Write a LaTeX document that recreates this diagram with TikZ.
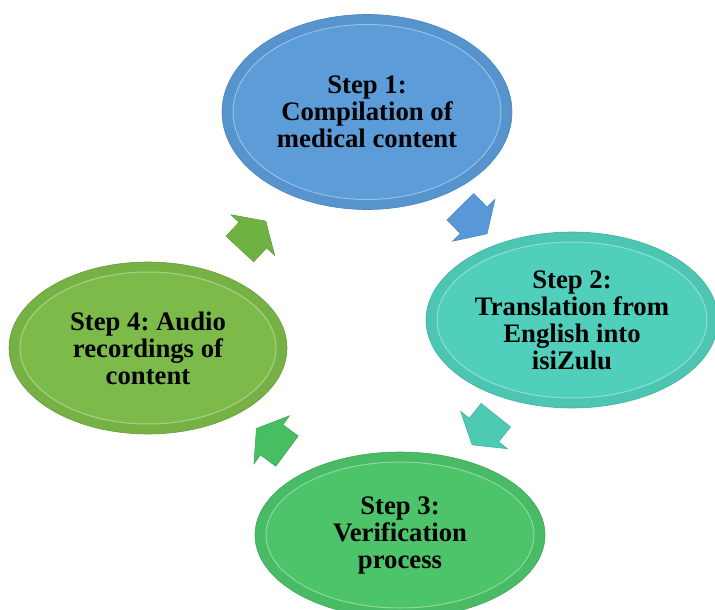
\documentclass[tikz,border=0pt]{standalone}
\usepackage{fontspec}
\setmainfont{Liberation Serif}
\usetikzlibrary{shapes.geometric,shapes.arrows}
\definecolor{stepblue}{RGB}{92,156,216}
\definecolor{stepteal}{RGB}{80,208,188}
\definecolor{stepgreen}{RGB}{77,196,106}
\definecolor{stepolive}{RGB}{124,186,74}
\definecolor{arrowblue}{RGB}{88,152,216}
\definecolor{arrowteal}{RGB}{78,202,180}
\definecolor{arrowgreen}{RGB}{72,190,98}
\definecolor{arrowolive}{RGB}{112,178,66}
\begin{document}
\begin{tikzpicture} [
      x=1pt, y=-1pt,
      stepnode/.style n args={3}{ellipse, minimum width=#1, minimum height=#2, fill=#3!95!black, draw=#3!85!black, line width=0.6pt, align=center, inner sep=0pt, font=\fontsize{26.7}{27}\selectfont\bfseries\frenchspacing,
        path picture={\draw[fill=#3, draw=#3!65!white, line width=1pt] (path picture bounding box.center) ellipse [x radius=#1/2-11pt, y radius=#2/2-10pt];}},
      cyclearrow/.style={single arrow, draw=#1!88!black, fill=#1, line width=0.6pt, minimum height=38pt, single arrow head extend=11pt, single arrow tip angle=115, inner sep=0pt, sloped, allow upside down}
   ]
    \useasboundingbox (0,0) rectangle (715,610);
    \node[stepnode={290pt}{195pt}{stepblue}] (s1) at (367,112) {Step 1:\\Compilation of\\medical content};
    \node[stepnode={292pt}{176pt}{stepteal}] (s2) at (572,320) {Step 2:\\Translation from\\English into\\isiZulu};
    \node[stepnode={290pt}{166pt}{stepgreen}] (s3) at (400,535) {Step 3:\\Verification\\process};
    \node[stepnode={278pt}{172pt}{stepolive}] (s4) at (148,348) {Step 4: Audio\\recordings of\\content};

    \path (s1.center) -- node[cyclearrow=arrowblue, pos=0.5] (a12) {\rule{0pt}{37pt}} (s2.center);
    \path (s2.center) -- node[cyclearrow=arrowteal, pos=0.49] (a23) {\rule{0pt}{37pt}} (s3.center);
    \path (s3.center) -- node[cyclearrow=arrowgreen, pos=0.49] (a34) {\rule{0pt}{37pt}} (s4.center);
    \path (s4.center) -- node[cyclearrow=arrowolive, pos=0.46] (a41) {\rule{0pt}{37pt}} (s1.center);
  \end{tikzpicture}
\end{document}
